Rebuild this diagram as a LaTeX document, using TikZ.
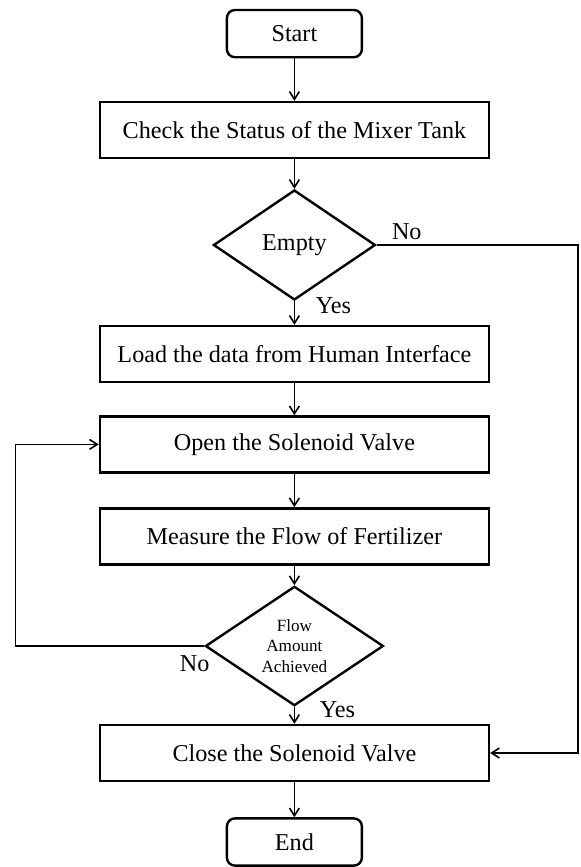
\documentclass[tikz,border=0pt]{standalone}
\usepackage{fontspec}
\setmainfont{Liberation Serif}
\usepackage{tikz}
\usetikzlibrary{arrows.meta,shapes.geometric}

\begin{document}
\begin{tikzpicture}[>={Straight Barb[length=5.5pt,width=7pt]},line width=1.15pt,
    font=\fontsize{17.2}{20}\selectfont,
    termbox/.style={draw,line width=1.7pt,rounded corners=0.2cm,minimum width=3.375cm,minimum height=1.18cm},
    stepbox/.style={draw,line width=1.7pt,minimum width=9.725cm,minimum height=1.4cm,inner sep=0pt},
    decide/.style={draw,diamond,line width=1.7pt,inner sep=0pt}]
      \useasboundingbox (0,0) rectangle (14.525,-21.675);
      \node[termbox] (start) at (7.36,-0.84) {Start};
      \node[stepbox] (check) at (7.36,-3.25) {Check the Status of the Mixer Tank};
      \node[decide,minimum width=4.05cm,minimum height=2.75cm] (empty) at (7.36,-6.125) {Empty};
      \node[stepbox] (load) at (7.36,-8.85) {Load the data from Human Interface};
      \node[stepbox] (open) at (7.36,-11.11) {Open the Solenoid Valve};
      \node[stepbox] (measure) at (7.36,-13.41) {Measure the Flow of Fertilizer};
      \node[decide,minimum width=4.45cm,minimum height=2.7cm,align=center,
            font=\fontsize{12.2}{14.8}\selectfont] (flow) at (7.36,-16.15) {Flow\\Amount\\Achieved};
      \node[stepbox] (close) at (7.36,-18.825) {Close the Solenoid Valve};
      \node[termbox] (end) at (7.36,-21.05) {End};
      \coordinate (railR) at (14.45,0);
      \coordinate (railL) at (0.39,0);
      \draw[->] (start) -- (check);
      \draw[->] (check) -- (empty);
      \draw[->] (empty) -- node[right,pos=0.2,xshift=0.4cm]{Yes} (load);
      \draw[->] (load) -- (open);
      \draw[->] (open) -- (measure);
      \draw[->] (measure) -- (flow);
      \draw[->] (flow) -- node[right,pos=0.15,xshift=0.5cm]{Yes} (close);
      \draw[->] (close) -- (end);
      \draw[->] (empty.east) -- node[above,pos=0.15]{No} (empty.east -| railR) |- (close.east);
      \draw[->] (flow.west) -- node[below,pos=0.05,yshift=-0.1cm]{No} (flow.west -| railL) |- (open.west);
    \end{tikzpicture}
\end{document}
